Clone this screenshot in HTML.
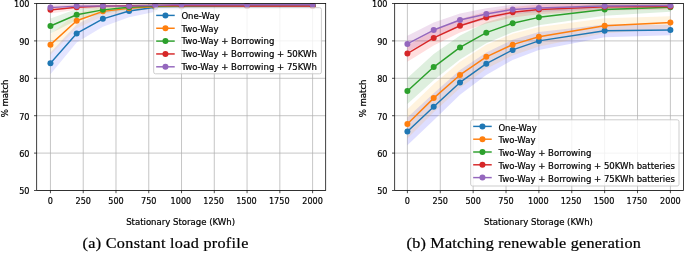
<!DOCTYPE html>
<html lang="en"><head><meta charset="utf-8"><title>Stationary storage match plots</title>
<style>
html,body{margin:0;padding:0;background:#fff;}
body{width:685px;height:254px;overflow:hidden;position:relative;}
svg{display:block;position:absolute;left:0;top:0;}
svg text{stroke:#000;stroke-width:0.2px;}
</style></head><body>
<svg width="685" height="254" viewBox="0 0 685 254" font-family="'DejaVu Sans', 'Liberation Sans', sans-serif" font-size="8.55px">
<rect width="685" height="254" fill="#fff"/>
<defs><clipPath id="c0"><rect x="36.7" y="3.5" width="289.0" height="187.0"/></clipPath></defs>
<path d="M50.45 3.5V190.5M83.22 3.5V190.5M115.99 3.5V190.5M148.76 3.5V190.5M181.53 3.5V190.5M214.29 3.5V190.5M247.06 3.5V190.5M279.83 3.5V190.5M312.60 3.5V190.5M36.7 190.50H325.7M36.7 153.10H325.7M36.7 115.70H325.7M36.7 78.30H325.7M36.7 40.90H325.7M36.7 3.50H325.7" stroke="#b0b0b0" stroke-width="0.72" fill="none"/>
<g clip-path="url(#c0)">
<polygon points="50.45,52.49 76.67,24.44 102.88,10.98 129.10,4.62 155.31,2.75 181.53,3.13 247.06,3.50 312.60,3.87 312.60,7.61 247.06,7.99 181.53,9.86 155.31,11.73 129.10,17.34 102.88,26.69 76.67,42.40 50.45,74.19" fill="#0000ff" fill-opacity="0.1"/>
<polygon points="50.45,34.17 76.67,13.22 102.88,6.49 129.10,5.00 155.31,3.87 181.53,3.95 247.06,4.06 312.60,4.06 312.60,7.05 247.06,7.05 181.53,7.69 155.31,9.11 129.10,11.73 102.88,16.22 76.67,28.18 50.45,55.11" fill="#ffa500" fill-opacity="0.1"/>
<polygon points="50.45,18.46 76.67,9.11 102.88,6.12 129.10,4.62 155.31,4.06 181.53,4.06 247.06,4.25 312.60,4.25 312.60,6.49 247.06,6.49 181.53,7.05 155.31,7.80 129.10,9.86 102.88,13.60 76.67,20.33 50.45,33.42" fill="#008000" fill-opacity="0.1"/>
<polygon points="50.45,6.12 76.67,4.62 102.88,4.25 129.10,4.25 155.31,4.44 181.53,4.44 247.06,5.18 312.60,5.18 312.60,6.68 247.06,6.68 181.53,6.68 155.31,6.68 129.10,7.24 102.88,7.99 76.67,9.86 50.45,13.60" fill="#ff0000" fill-opacity="0.1"/>
<polygon points="50.45,4.62 76.67,3.87 102.88,4.44 129.10,5.00 155.31,4.25 181.53,3.80 247.06,4.02 312.60,4.02 312.60,5.52 247.06,5.52 181.53,5.30 155.31,6.49 129.10,7.24 102.88,7.43 76.67,8.36 50.45,10.61" fill="#800080" fill-opacity="0.1"/>
<polyline points="50.45,63.34 76.67,33.42 102.88,18.83 129.10,10.98 155.31,7.24 181.53,6.49 247.06,5.74 312.60,5.74" fill="none" stroke="#1f77b4" stroke-width="1.45" stroke-linejoin="round" stroke-linecap="square"/>
<circle cx="50.45" cy="63.34" r="3.0" fill="#1f77b4"/>
<circle cx="76.67" cy="33.42" r="3.0" fill="#1f77b4"/>
<circle cx="102.88" cy="18.83" r="3.0" fill="#1f77b4"/>
<circle cx="129.10" cy="10.98" r="3.0" fill="#1f77b4"/>
<circle cx="155.31" cy="7.24" r="3.0" fill="#1f77b4"/>
<circle cx="181.53" cy="6.49" r="3.0" fill="#1f77b4"/>
<circle cx="247.06" cy="5.74" r="3.0" fill="#1f77b4"/>
<circle cx="312.60" cy="5.74" r="3.0" fill="#1f77b4"/>
<polyline points="50.45,44.64 76.67,20.70 102.88,11.35 129.10,8.36 155.31,6.49 181.53,5.82 247.06,5.56 312.60,5.56" fill="none" stroke="#ff7f0e" stroke-width="1.45" stroke-linejoin="round" stroke-linecap="square"/>
<circle cx="50.45" cy="44.64" r="3.0" fill="#ff7f0e"/>
<circle cx="76.67" cy="20.70" r="3.0" fill="#ff7f0e"/>
<circle cx="102.88" cy="11.35" r="3.0" fill="#ff7f0e"/>
<circle cx="129.10" cy="8.36" r="3.0" fill="#ff7f0e"/>
<circle cx="155.31" cy="6.49" r="3.0" fill="#ff7f0e"/>
<circle cx="181.53" cy="5.82" r="3.0" fill="#ff7f0e"/>
<circle cx="247.06" cy="5.56" r="3.0" fill="#ff7f0e"/>
<circle cx="312.60" cy="5.56" r="3.0" fill="#ff7f0e"/>
<polyline points="50.45,25.94 76.67,14.72 102.88,9.86 129.10,7.24 155.31,5.93 181.53,5.56 247.06,5.37 312.60,5.37" fill="none" stroke="#2ca02c" stroke-width="1.45" stroke-linejoin="round" stroke-linecap="square"/>
<circle cx="50.45" cy="25.94" r="3.0" fill="#2ca02c"/>
<circle cx="76.67" cy="14.72" r="3.0" fill="#2ca02c"/>
<circle cx="102.88" cy="9.86" r="3.0" fill="#2ca02c"/>
<circle cx="129.10" cy="7.24" r="3.0" fill="#2ca02c"/>
<circle cx="155.31" cy="5.93" r="3.0" fill="#2ca02c"/>
<circle cx="181.53" cy="5.56" r="3.0" fill="#2ca02c"/>
<circle cx="247.06" cy="5.37" r="3.0" fill="#2ca02c"/>
<circle cx="312.60" cy="5.37" r="3.0" fill="#2ca02c"/>
<polyline points="50.45,9.86 76.67,7.24 102.88,6.12 129.10,5.74 155.31,5.56 181.53,5.56 247.06,5.93 312.60,5.93" fill="none" stroke="#d62728" stroke-width="1.45" stroke-linejoin="round" stroke-linecap="square"/>
<circle cx="50.45" cy="9.86" r="3.0" fill="#d62728"/>
<circle cx="76.67" cy="7.24" r="3.0" fill="#d62728"/>
<circle cx="102.88" cy="6.12" r="3.0" fill="#d62728"/>
<circle cx="129.10" cy="5.74" r="3.0" fill="#d62728"/>
<circle cx="155.31" cy="5.56" r="3.0" fill="#d62728"/>
<circle cx="181.53" cy="5.56" r="3.0" fill="#d62728"/>
<circle cx="247.06" cy="5.93" r="3.0" fill="#d62728"/>
<circle cx="312.60" cy="5.93" r="3.0" fill="#d62728"/>
<polyline points="50.45,7.61 76.67,6.12 102.88,5.93 129.10,6.12 155.31,5.37 181.53,4.55 247.06,4.77 312.60,4.77" fill="none" stroke="#9467bd" stroke-width="1.45" stroke-linejoin="round" stroke-linecap="square"/>
<circle cx="50.45" cy="7.61" r="3.0" fill="#9467bd"/>
<circle cx="76.67" cy="6.12" r="3.0" fill="#9467bd"/>
<circle cx="102.88" cy="5.93" r="3.0" fill="#9467bd"/>
<circle cx="129.10" cy="6.12" r="3.0" fill="#9467bd"/>
<circle cx="155.31" cy="5.37" r="3.0" fill="#9467bd"/>
<circle cx="181.53" cy="4.55" r="3.0" fill="#9467bd"/>
<circle cx="247.06" cy="4.77" r="3.0" fill="#9467bd"/>
<circle cx="312.60" cy="4.77" r="3.0" fill="#9467bd"/>
</g>
<path d="M50.45 190.5v2.7M83.22 190.5v2.7M115.99 190.5v2.7M148.76 190.5v2.7M181.53 190.5v2.7M214.29 190.5v2.7M247.06 190.5v2.7M279.83 190.5v2.7M312.60 190.5v2.7M36.7 190.50h-2.7M36.7 153.10h-2.7M36.7 115.70h-2.7M36.7 78.30h-2.7M36.7 40.90h-2.7M36.7 3.50h-2.7" stroke="#000" stroke-width="0.7" fill="none"/>
<rect x="36.7" y="3.5" width="289.0" height="187.0" fill="none" stroke="#000" stroke-width="0.75"/>
<text transform="translate(50.45 203.9) scale(0.95 1)" text-anchor="middle" fill="#000">0</text>
<text transform="translate(83.22 203.9) scale(0.95 1)" text-anchor="middle" fill="#000">250</text>
<text transform="translate(115.99 203.9) scale(0.95 1)" text-anchor="middle" fill="#000">500</text>
<text transform="translate(148.76 203.9) scale(0.95 1)" text-anchor="middle" fill="#000">750</text>
<text transform="translate(180.93 203.9) scale(0.95 1)" text-anchor="middle" fill="#000">1000</text>
<text transform="translate(213.69 203.9) scale(0.95 1)" text-anchor="middle" fill="#000">1250</text>
<text transform="translate(246.46 203.9) scale(0.95 1)" text-anchor="middle" fill="#000">1500</text>
<text transform="translate(279.23 203.9) scale(0.95 1)" text-anchor="middle" fill="#000">1750</text>
<text transform="translate(312.60 203.9) scale(0.95 1)" text-anchor="middle" fill="#000">2000</text>
<text transform="translate(29.50 194.30) scale(0.95 1)" text-anchor="end" fill="#000">50</text>
<text transform="translate(29.50 156.90) scale(0.95 1)" text-anchor="end" fill="#000">60</text>
<text transform="translate(29.50 119.50) scale(0.95 1)" text-anchor="end" fill="#000">70</text>
<text transform="translate(29.50 82.10) scale(0.95 1)" text-anchor="end" fill="#000">80</text>
<text transform="translate(29.50 44.70) scale(0.95 1)" text-anchor="end" fill="#000">90</text>
<text transform="translate(29.50 7.30) scale(0.95 1)" text-anchor="end" fill="#000">100</text>
<text x="180.60" y="224.9" text-anchor="middle" fill="#000">Stationary Storage (KWh)</text>
<text transform="translate(7.50 98.4) rotate(-90)" text-anchor="middle" fill="#000">% match</text>
<rect x="153.7" y="7.7" width="167.70" height="66.10" rx="1.8" fill="#fff" fill-opacity="0.8" stroke="#c4c4c4" stroke-opacity="0.9" stroke-width="0.95"/>
<path d="M156.90 15.40h17.1" stroke="#1f77b4" stroke-width="1.45" stroke-linecap="square"/>
<circle cx="165.45" cy="15.40" r="3.0" fill="#1f77b4"/>
<text x="181.40" y="18.70" fill="#000">One-Way</text>
<path d="M156.90 28.25h17.1" stroke="#ff7f0e" stroke-width="1.45" stroke-linecap="square"/>
<circle cx="165.45" cy="28.25" r="3.0" fill="#ff7f0e"/>
<text x="181.40" y="31.55" fill="#000">Two-Way</text>
<path d="M156.90 41.10h17.1" stroke="#2ca02c" stroke-width="1.45" stroke-linecap="square"/>
<circle cx="165.45" cy="41.10" r="3.0" fill="#2ca02c"/>
<text x="181.40" y="44.40" fill="#000">Two-Way + Borrowing</text>
<path d="M156.90 53.95h17.1" stroke="#d62728" stroke-width="1.45" stroke-linecap="square"/>
<circle cx="165.45" cy="53.95" r="3.0" fill="#d62728"/>
<text x="181.40" y="57.25" fill="#000">Two-Way + Borrowing + 50KWh</text>
<path d="M156.90 66.80h17.1" stroke="#9467bd" stroke-width="1.45" stroke-linecap="square"/>
<circle cx="165.45" cy="66.80" r="3.0" fill="#9467bd"/>
<text x="181.40" y="70.10" fill="#000">Two-Way + Borrowing + 75KWh</text>
<defs><clipPath id="c1"><rect x="394.7" y="3.5" width="288.8" height="187.0"/></clipPath></defs>
<path d="M407.40 3.5V190.5M440.27 3.5V190.5M473.15 3.5V190.5M506.02 3.5V190.5M538.90 3.5V190.5M571.77 3.5V190.5M604.65 3.5V190.5M637.52 3.5V190.5M670.40 3.5V190.5M394.7 190.50H683.5M394.7 153.10H683.5M394.7 115.70H683.5M394.7 78.30H683.5M394.7 40.90H683.5M394.7 3.50H683.5" stroke="#b0b0b0" stroke-width="0.72" fill="none"/>
<g clip-path="url(#c1)">
<polygon points="407.40,117.57 433.70,93.26 460.00,70.07 486.30,52.49 512.60,39.78 538.90,31.92 604.65,24.44 670.40,24.82 670.40,35.29 604.65,37.16 538.90,49.88 512.60,59.97 486.30,74.93 460.00,94.76 433.70,120.19 407.40,145.25" fill="#0000ff" fill-opacity="0.13"/>
<polygon points="407.40,109.34 433.70,83.91 460.00,61.84 486.30,44.83 512.60,33.79 538.90,27.06 604.65,18.27 670.40,16.22 670.40,28.93 604.65,33.23 538.90,46.51 512.60,55.49 486.30,68.76 460.00,88.02 433.70,112.33 407.40,138.51" fill="#ffa500" fill-opacity="0.13"/>
<polygon points="407.40,77.93 433.70,53.99 460.00,35.48 486.30,22.20 512.60,14.35 538.90,9.48 604.65,3.13 670.40,2.75 670.40,11.73 604.65,15.84 538.90,25.19 512.60,32.30 486.30,43.14 460.00,59.41 433.70,80.17 407.40,104.11" fill="#008000" fill-opacity="0.13"/>
<polygon points="407.40,45.39 433.70,30.43 460.00,19.02 486.30,11.54 512.60,7.05 538.90,4.62 604.65,3.13 670.40,3.50 670.40,9.48 604.65,10.61 538.90,14.35 512.60,17.52 486.30,23.51 460.00,32.48 433.70,45.39 407.40,61.84" fill="#ff0000" fill-opacity="0.13"/>
<polygon points="407.40,35.66 433.70,22.57 460.00,13.60 486.30,8.36 512.60,4.62 538.90,3.87 604.65,2.94 670.40,3.28 670.40,7.76 604.65,8.92 538.90,12.10 512.60,14.35 486.30,19.58 460.00,26.31 433.70,37.53 407.40,52.12" fill="#800080" fill-opacity="0.13"/>
<polyline points="407.40,131.41 433.70,106.72 460.00,82.41 486.30,63.71 512.60,49.88 538.90,40.90 604.65,30.80 670.40,30.05" fill="none" stroke="#1f77b4" stroke-width="1.45" stroke-linejoin="round" stroke-linecap="square"/>
<circle cx="407.40" cy="131.41" r="3.0" fill="#1f77b4"/>
<circle cx="433.70" cy="106.72" r="3.0" fill="#1f77b4"/>
<circle cx="460.00" cy="82.41" r="3.0" fill="#1f77b4"/>
<circle cx="486.30" cy="63.71" r="3.0" fill="#1f77b4"/>
<circle cx="512.60" cy="49.88" r="3.0" fill="#1f77b4"/>
<circle cx="538.90" cy="40.90" r="3.0" fill="#1f77b4"/>
<circle cx="604.65" cy="30.80" r="3.0" fill="#1f77b4"/>
<circle cx="670.40" cy="30.05" r="3.0" fill="#1f77b4"/>
<polyline points="407.40,123.93 433.70,98.12 460.00,74.93 486.30,56.80 512.60,44.64 538.90,36.79 604.65,25.75 670.40,22.57" fill="none" stroke="#ff7f0e" stroke-width="1.45" stroke-linejoin="round" stroke-linecap="square"/>
<circle cx="407.40" cy="123.93" r="3.0" fill="#ff7f0e"/>
<circle cx="433.70" cy="98.12" r="3.0" fill="#ff7f0e"/>
<circle cx="460.00" cy="74.93" r="3.0" fill="#ff7f0e"/>
<circle cx="486.30" cy="56.80" r="3.0" fill="#ff7f0e"/>
<circle cx="512.60" cy="44.64" r="3.0" fill="#ff7f0e"/>
<circle cx="538.90" cy="36.79" r="3.0" fill="#ff7f0e"/>
<circle cx="604.65" cy="25.75" r="3.0" fill="#ff7f0e"/>
<circle cx="670.40" cy="22.57" r="3.0" fill="#ff7f0e"/>
<polyline points="407.40,91.02 433.70,67.08 460.00,47.45 486.30,32.67 512.60,23.32 538.90,17.34 604.65,9.48 670.40,7.24" fill="none" stroke="#2ca02c" stroke-width="1.45" stroke-linejoin="round" stroke-linecap="square"/>
<circle cx="407.40" cy="91.02" r="3.0" fill="#2ca02c"/>
<circle cx="433.70" cy="67.08" r="3.0" fill="#2ca02c"/>
<circle cx="460.00" cy="47.45" r="3.0" fill="#2ca02c"/>
<circle cx="486.30" cy="32.67" r="3.0" fill="#2ca02c"/>
<circle cx="512.60" cy="23.32" r="3.0" fill="#2ca02c"/>
<circle cx="538.90" cy="17.34" r="3.0" fill="#2ca02c"/>
<circle cx="604.65" cy="9.48" r="3.0" fill="#2ca02c"/>
<circle cx="670.40" cy="7.24" r="3.0" fill="#2ca02c"/>
<polyline points="407.40,53.62 433.70,37.91 460.00,25.75 486.30,17.52 512.60,12.29 538.90,9.48 604.65,6.87 670.40,6.49" fill="none" stroke="#d62728" stroke-width="1.45" stroke-linejoin="round" stroke-linecap="square"/>
<circle cx="407.40" cy="53.62" r="3.0" fill="#d62728"/>
<circle cx="433.70" cy="37.91" r="3.0" fill="#d62728"/>
<circle cx="460.00" cy="25.75" r="3.0" fill="#d62728"/>
<circle cx="486.30" cy="17.52" r="3.0" fill="#d62728"/>
<circle cx="512.60" cy="12.29" r="3.0" fill="#d62728"/>
<circle cx="538.90" cy="9.48" r="3.0" fill="#d62728"/>
<circle cx="604.65" cy="6.87" r="3.0" fill="#d62728"/>
<circle cx="670.40" cy="6.49" r="3.0" fill="#d62728"/>
<polyline points="407.40,43.89 433.70,30.05 460.00,19.96 486.30,13.97 512.60,9.48 538.90,7.99 604.65,5.93 670.40,5.52" fill="none" stroke="#9467bd" stroke-width="1.45" stroke-linejoin="round" stroke-linecap="square"/>
<circle cx="407.40" cy="43.89" r="3.0" fill="#9467bd"/>
<circle cx="433.70" cy="30.05" r="3.0" fill="#9467bd"/>
<circle cx="460.00" cy="19.96" r="3.0" fill="#9467bd"/>
<circle cx="486.30" cy="13.97" r="3.0" fill="#9467bd"/>
<circle cx="512.60" cy="9.48" r="3.0" fill="#9467bd"/>
<circle cx="538.90" cy="7.99" r="3.0" fill="#9467bd"/>
<circle cx="604.65" cy="5.93" r="3.0" fill="#9467bd"/>
<circle cx="670.40" cy="5.52" r="3.0" fill="#9467bd"/>
</g>
<path d="M407.40 190.5v2.7M440.27 190.5v2.7M473.15 190.5v2.7M506.02 190.5v2.7M538.90 190.5v2.7M571.77 190.5v2.7M604.65 190.5v2.7M637.52 190.5v2.7M670.40 190.5v2.7M394.7 190.50h-2.7M394.7 153.10h-2.7M394.7 115.70h-2.7M394.7 78.30h-2.7M394.7 40.90h-2.7M394.7 3.50h-2.7" stroke="#000" stroke-width="0.7" fill="none"/>
<rect x="394.7" y="3.5" width="288.8" height="187.0" fill="none" stroke="#000" stroke-width="0.75"/>
<text transform="translate(407.40 203.9) scale(0.95 1)" text-anchor="middle" fill="#000">0</text>
<text transform="translate(440.27 203.9) scale(0.95 1)" text-anchor="middle" fill="#000">250</text>
<text transform="translate(473.15 203.9) scale(0.95 1)" text-anchor="middle" fill="#000">500</text>
<text transform="translate(506.02 203.9) scale(0.95 1)" text-anchor="middle" fill="#000">750</text>
<text transform="translate(538.30 203.9) scale(0.95 1)" text-anchor="middle" fill="#000">1000</text>
<text transform="translate(571.17 203.9) scale(0.95 1)" text-anchor="middle" fill="#000">1250</text>
<text transform="translate(604.05 203.9) scale(0.95 1)" text-anchor="middle" fill="#000">1500</text>
<text transform="translate(636.92 203.9) scale(0.95 1)" text-anchor="middle" fill="#000">1750</text>
<text transform="translate(670.40 203.9) scale(0.95 1)" text-anchor="middle" fill="#000">2000</text>
<text transform="translate(387.50 194.30) scale(0.95 1)" text-anchor="end" fill="#000">50</text>
<text transform="translate(387.50 156.90) scale(0.95 1)" text-anchor="end" fill="#000">60</text>
<text transform="translate(387.50 119.50) scale(0.95 1)" text-anchor="end" fill="#000">70</text>
<text transform="translate(387.50 82.10) scale(0.95 1)" text-anchor="end" fill="#000">80</text>
<text transform="translate(387.50 44.70) scale(0.95 1)" text-anchor="end" fill="#000">90</text>
<text transform="translate(387.50 7.30) scale(0.95 1)" text-anchor="end" fill="#000">100</text>
<text x="538.50" y="224.9" text-anchor="middle" fill="#000">Stationary Storage (KWh)</text>
<text transform="translate(365.50 98.4) rotate(-90)" text-anchor="middle" fill="#000">% match</text>
<rect x="470.7" y="119.8" width="208.30" height="66.20" rx="1.8" fill="#fff" fill-opacity="0.8" stroke="#c4c4c4" stroke-opacity="0.9" stroke-width="0.95"/>
<path d="M473.90 126.40h17.1" stroke="#1f77b4" stroke-width="1.45" stroke-linecap="square"/>
<circle cx="482.45" cy="126.40" r="3.0" fill="#1f77b4"/>
<text x="498.40" y="130.50" fill="#000">One-Way</text>
<path d="M473.90 139.20h17.1" stroke="#ff7f0e" stroke-width="1.45" stroke-linecap="square"/>
<circle cx="482.45" cy="139.20" r="3.0" fill="#ff7f0e"/>
<text x="498.40" y="143.30" fill="#000">Two-Way</text>
<path d="M473.90 152.00h17.1" stroke="#2ca02c" stroke-width="1.45" stroke-linecap="square"/>
<circle cx="482.45" cy="152.00" r="3.0" fill="#2ca02c"/>
<text x="498.40" y="156.10" fill="#000">Two-Way + Borrowing</text>
<path d="M473.90 164.80h17.1" stroke="#d62728" stroke-width="1.45" stroke-linecap="square"/>
<circle cx="482.45" cy="164.80" r="3.0" fill="#d62728"/>
<text x="498.40" y="168.90" fill="#000">Two-Way + Borrowing + 50KWh batteries</text>
<path d="M473.90 177.60h17.1" stroke="#9467bd" stroke-width="1.45" stroke-linecap="square"/>
<circle cx="482.45" cy="177.60" r="3.0" fill="#9467bd"/>
<text x="498.40" y="181.70" fill="#000">Two-Way + Borrowing + 75KWh batteries</text>
</svg>
<svg width="685" height="254" viewBox="0 0 685 254" style="pointer-events:none" font-family="'Liberation Serif', 'DejaVu Serif', serif" font-size="14.0px" fill="#000">
<text transform="translate(82.6 247.5) scale(1.155 1)" letter-spacing="0.265">(a) Constant load profile</text>
<text transform="translate(406.6 247.5) scale(1.155 1)" letter-spacing="0.185">(b) Matching renewable generation</text>
</svg>
</body></html>
